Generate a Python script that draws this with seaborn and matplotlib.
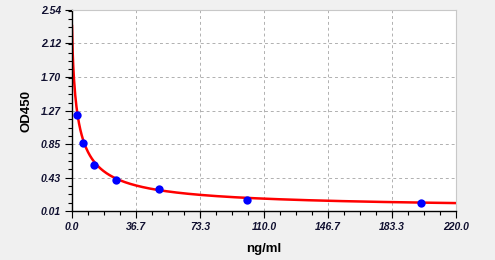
import numpy as np
import pandas as pd
import matplotlib
matplotlib.use("Agg")
import matplotlib.pyplot as plt
import seaborn as sns
from matplotlib.ticker import AutoMinorLocator, FixedLocator

# data
conc = [3.125, 6.25, 12.5, 25, 50, 100, 200]
od = [1.215, 0.862, 0.593, 0.400, 0.287, 0.152, 0.107]
# 4PL fit parameters (a, b, c, d)
fit_params = [2.35, 0.8, 3.4, 0.03]
x_ticks = [0.0, 36.7, 73.3, 110.0, 146.7, 183.3, 220.0]
y_ticks = [0.01, 0.43, 0.85, 1.27, 1.70, 2.12, 2.54]

sns.set_theme(style="white")
plt.rcParams['font.family'] = ['Liberation Sans', 'DejaVu Sans']
plt.rcParams['text.color'] = 'black'
plt.rcParams['axes.labelcolor'] = 'black'

fig = plt.figure(figsize=(4.95, 2.6), dpi=100, facecolor="#f0f0f0")
ax = fig.add_axes([72/495, 1-211/260, (456-72)/495, (211-10)/260])
ax.set_facecolor("white")

a, b, c, d = fit_params
xs = np.linspace(0, 220, 600)
ys = d + (a - d) / (1 + (xs / c) ** b)
curve = pd.DataFrame({"x": xs, "y": ys})
pts = pd.DataFrame({"x": conc, "y": od})

sns.lineplot(data=curve, x="x", y="y", color="#ff0000", linewidth=1.8, ax=ax, zorder=2)
sns.scatterplot(data=pts, x="x", y="y", color="#0000ff", s=36, edgecolor="#0000ff", linewidth=0, ax=ax, zorder=3)

ax.set_xlim(0, 220)
ax.set_ylim(0.01, 2.54)
ax.xaxis.set_major_locator(FixedLocator(x_ticks))
ax.yaxis.set_major_locator(FixedLocator(y_ticks))
ax.set_xticklabels([f"{v:.1f}" for v in x_ticks])
ax.set_yticklabels([f"{v:.2f}" for v in y_ticks])
ax.xaxis.set_minor_locator(AutoMinorLocator(4))
ax.yaxis.set_minor_locator(AutoMinorLocator(4))

ax.tick_params(axis="both", which="major", direction="out", length=5, width=0.8, color="black",
               labelsize=7.5, pad=3, bottom=True, left=True)
ax.tick_params(axis="both", which="minor", direction="out", length=3, width=0.8, color="black",
               bottom=True, left=True)
for lab in ax.get_xticklabels() + ax.get_yticklabels():
    lab.set_fontweight("bold")
    lab.set_fontstyle("italic")
    lab.set_color("#101030")

ax.grid(True, which="major", linestyle=(0, (3, 3)), color="#b0b0b0", linewidth=0.7)
ax.set_axisbelow(True)

for s in ["left", "bottom"]:
    ax.spines[s].set_color("black")
    ax.spines[s].set_linewidth(1.0)
for s in ["top", "right"]:
    ax.spines[s].set_color("#c8c8c8")
    ax.spines[s].set_linewidth(0.8)

ax.set_xlabel("ng/ml", fontsize=9.5, fontweight="bold", labelpad=8)
ax.set_ylabel("OD450", fontsize=9.5, fontweight="bold", labelpad=6)

fig.savefig("out.png", dpi=100, facecolor=fig.get_facecolor())
